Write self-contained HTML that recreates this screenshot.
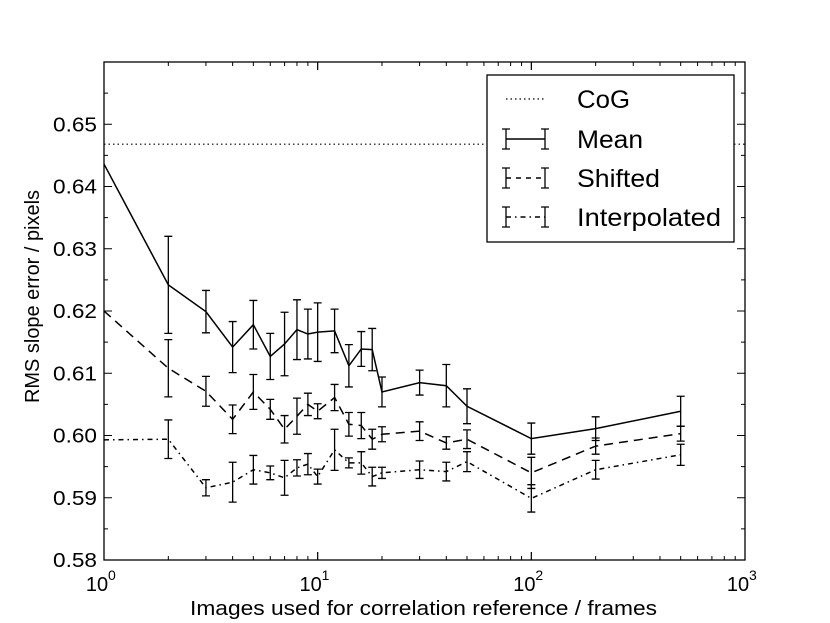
<!DOCTYPE html>
<html><head><meta charset="utf-8"><style>
body{margin:0;background:#fff}
svg{display:block;font-family:"Liberation Sans",sans-serif}
</style></head><body>
<svg id="c" width="830" height="623"></svg>
<script>
const xs=[1,2,3,4,5,6,7,8,9,10,12,14,16,18,20,30,40,50,100,200,500];
const meanV=[0.6436,0.6242,0.6199,0.6142,0.6178,0.6127,0.6147,0.6170,0.6163,0.6166,0.6168,0.6112,0.6139,0.6138,0.6070,0.6085,0.6080,0.6047,0.5995,0.6011,0.6039];
const meanE=[0,0.0078,0.0034,0.0041,0.0039,0.0037,0.0051,0.0048,0.0040,0.0047,0.0035,0.0034,0.0028,0.0034,0.0024,0.0020,0.0034,0.0028,0.0025,0.0019,0.0024];
const shiftV=[0.6200,0.6108,0.6071,0.6026,0.6070,0.6042,0.6010,0.6031,0.6050,0.6039,0.6061,0.6018,0.6016,0.5994,0.6002,0.6007,0.5988,0.5994,0.5940,0.5983,0.6003];
const shiftE=[0,0.0046,0.0024,0.0023,0.0028,0.0016,0.0022,0.0029,0.0018,0.0012,0.0021,0.0019,0.0021,0.0016,0.0012,0.0015,0.0010,0.0015,0.0025,0.0013,0.0012];
const interpV=[0.5993,0.5994,0.5916,0.5925,0.5945,0.5940,0.5932,0.5948,0.5954,0.5934,0.5977,0.5956,0.5956,0.5934,0.5940,0.5945,0.5942,0.5958,0.5899,0.5945,0.5969];
const interpE=[0,0.0031,0.0013,0.0032,0.0023,0.0011,0.0028,0.0013,0.0017,0.0012,0.0033,0.0008,0.0018,0.0015,0.0009,0.0014,0.0015,0.0016,0.0022,0.0015,0.0017];
const cogV=[0.6468];
const yTicks=[0.58,0.59,0.60,0.61,0.62,0.63,0.64,0.65];
const xTicks=[0,1,2,3];

const L=104,R=745,T=62,B=560;
const X=v=>L+Math.log10(v)*(R-L)/3;
const Y=v=>B-(v-0.58)*(B-T)/0.08;
const svg=document.getElementById('c');const NS='http://www.w3.org/2000/svg';
function mk(t,a,p){const e=document.createElementNS(NS,t);for(const k in a)e.setAttribute(k,a[k]);(p||svg).appendChild(e);return e;}

const defs=mk('defs',{});const cp=mk('clipPath',{id:'clip'},defs);mk('rect',{x:L,y:T,width:R-L,height:B-T},cp);

const tg=mk('g',{stroke:'#000','stroke-width':1});


for(let v=0.58;v<=0.6601;v+=0.005){const y=Y(v);const major=Math.round(v*1000)%10===0;const l=major?8:4;
 mk('line',{x1:L,y1:y,x2:L+l,y2:y},tg);mk('line',{x1:R,y1:y,x2:R-l,y2:y},tg);}
for(let d=0;d<3;d++)for(let k=1;k<=10;k++){const x=X(k*Math.pow(10,d));const l=(k===1||k===10)?8:4;
 mk('line',{x1:x,y1:B,x2:x,y2:B-l},tg);mk('line',{x1:x,y1:T,x2:x,y2:T+l},tg);}

yTicks.forEach(v=>{const t=mk('text',{x:97,y:Y(v)+7,'text-anchor':'end','font-size':20,textLength:44,lengthAdjust:'spacingAndGlyphs'});t.textContent=v.toFixed(2);
 
 });
xTicks.forEach(p=>{const x=X(Math.pow(10,p));const t=mk('text',{x:x-7,y:591,'text-anchor':'middle','font-size':20});t.textContent='10';
 
 
 const s=mk('text',{x:x+4,y:580,'font-size':14});s.textContent=String(p);
 
 });

const pg=mk('g',{'clip-path':'url(#clip)',fill:'none',stroke:'#000','stroke-width':1.5});
const cog=mk('line',{x1:L,x2:R,y1:Y(cogV[0]),y2:Y(cogV[0]),'stroke-dasharray':'1.5,3','stroke-width':1.2},pg);


function series(vals,errs,dash,name){
 const g=mk('g',{},pg);
 
 
 const pl=mk('polyline',{points:xs.map((x,i)=>X(x)+','+Y(vals[i])).join(' '),'stroke-dasharray':dash},g);
 
 
 xs.forEach((x,i)=>{if(!errs[i])return;const cx=X(x),y1=Y(vals[i]+errs[i]),y2=Y(vals[i]-errs[i]);
  const e=mk('path',{d:`M${cx},${y1}V${y2}M${cx-4},${y1}H${cx+4}M${cx-4},${y2}H${cx+4}`,'stroke-width':1.3},g);
  
  });
}
series(meanV,meanE,'','mean-series');
series(shiftV,shiftE,'9,6','shifted-series');
series(interpV,interpE,'5,4,1.5,4','interpolated-series');

const fr=mk('rect',{x:L,y:T,width:R-L,height:B-T,fill:'none',stroke:'#000','stroke-width':1.3});



const lg=mk('g',{});


mk('rect',{x:487,y:75,width:247,height:167,fill:'#fff',stroke:'#000','stroke-width':1.3},lg);
const labels=['CoG','Mean','Shifted','Interpolated'];const lw=[53,66,83,144];const dashes=['1.5,3','','5,5','5,4,1.5,4'];const ry=[99,139,178,217];
labels.forEach((lab,i)=>{const y=ry[i];
 const e=mk('g',{stroke:'#000',fill:'none','stroke-width':i?1.5:1.2},lg);
 
 
 mk('line',{x1:506,x2:545,y1:y,y2:y,'stroke-dasharray':dashes[i]},e);
 if(i){[506,545].forEach(x=>mk('path',{d:`M${x},${y-10}V${y+10}M${x-4},${y-10}H${x+4}M${x-4},${y+10}H${x+4}`,'stroke-width':1.3},e));}
 const t=mk('text',{x:577,y:y+9,'font-size':25,textLength:lw[i],lengthAdjust:'spacingAndGlyphs'},lg);t.textContent=lab;
 
 });

const xl=mk('text',{x:190,y:615,'font-size':20,textLength:467,lengthAdjust:'spacingAndGlyphs'});xl.textContent='Images used for correlation reference / frames';


const yl=mk('text',{x:0,y:0,'font-size':20,textLength:213,lengthAdjust:'spacingAndGlyphs',transform:'translate(39,403) rotate(-90)'});yl.textContent='RMS slope error / pixels';


</script>
</body></html>
